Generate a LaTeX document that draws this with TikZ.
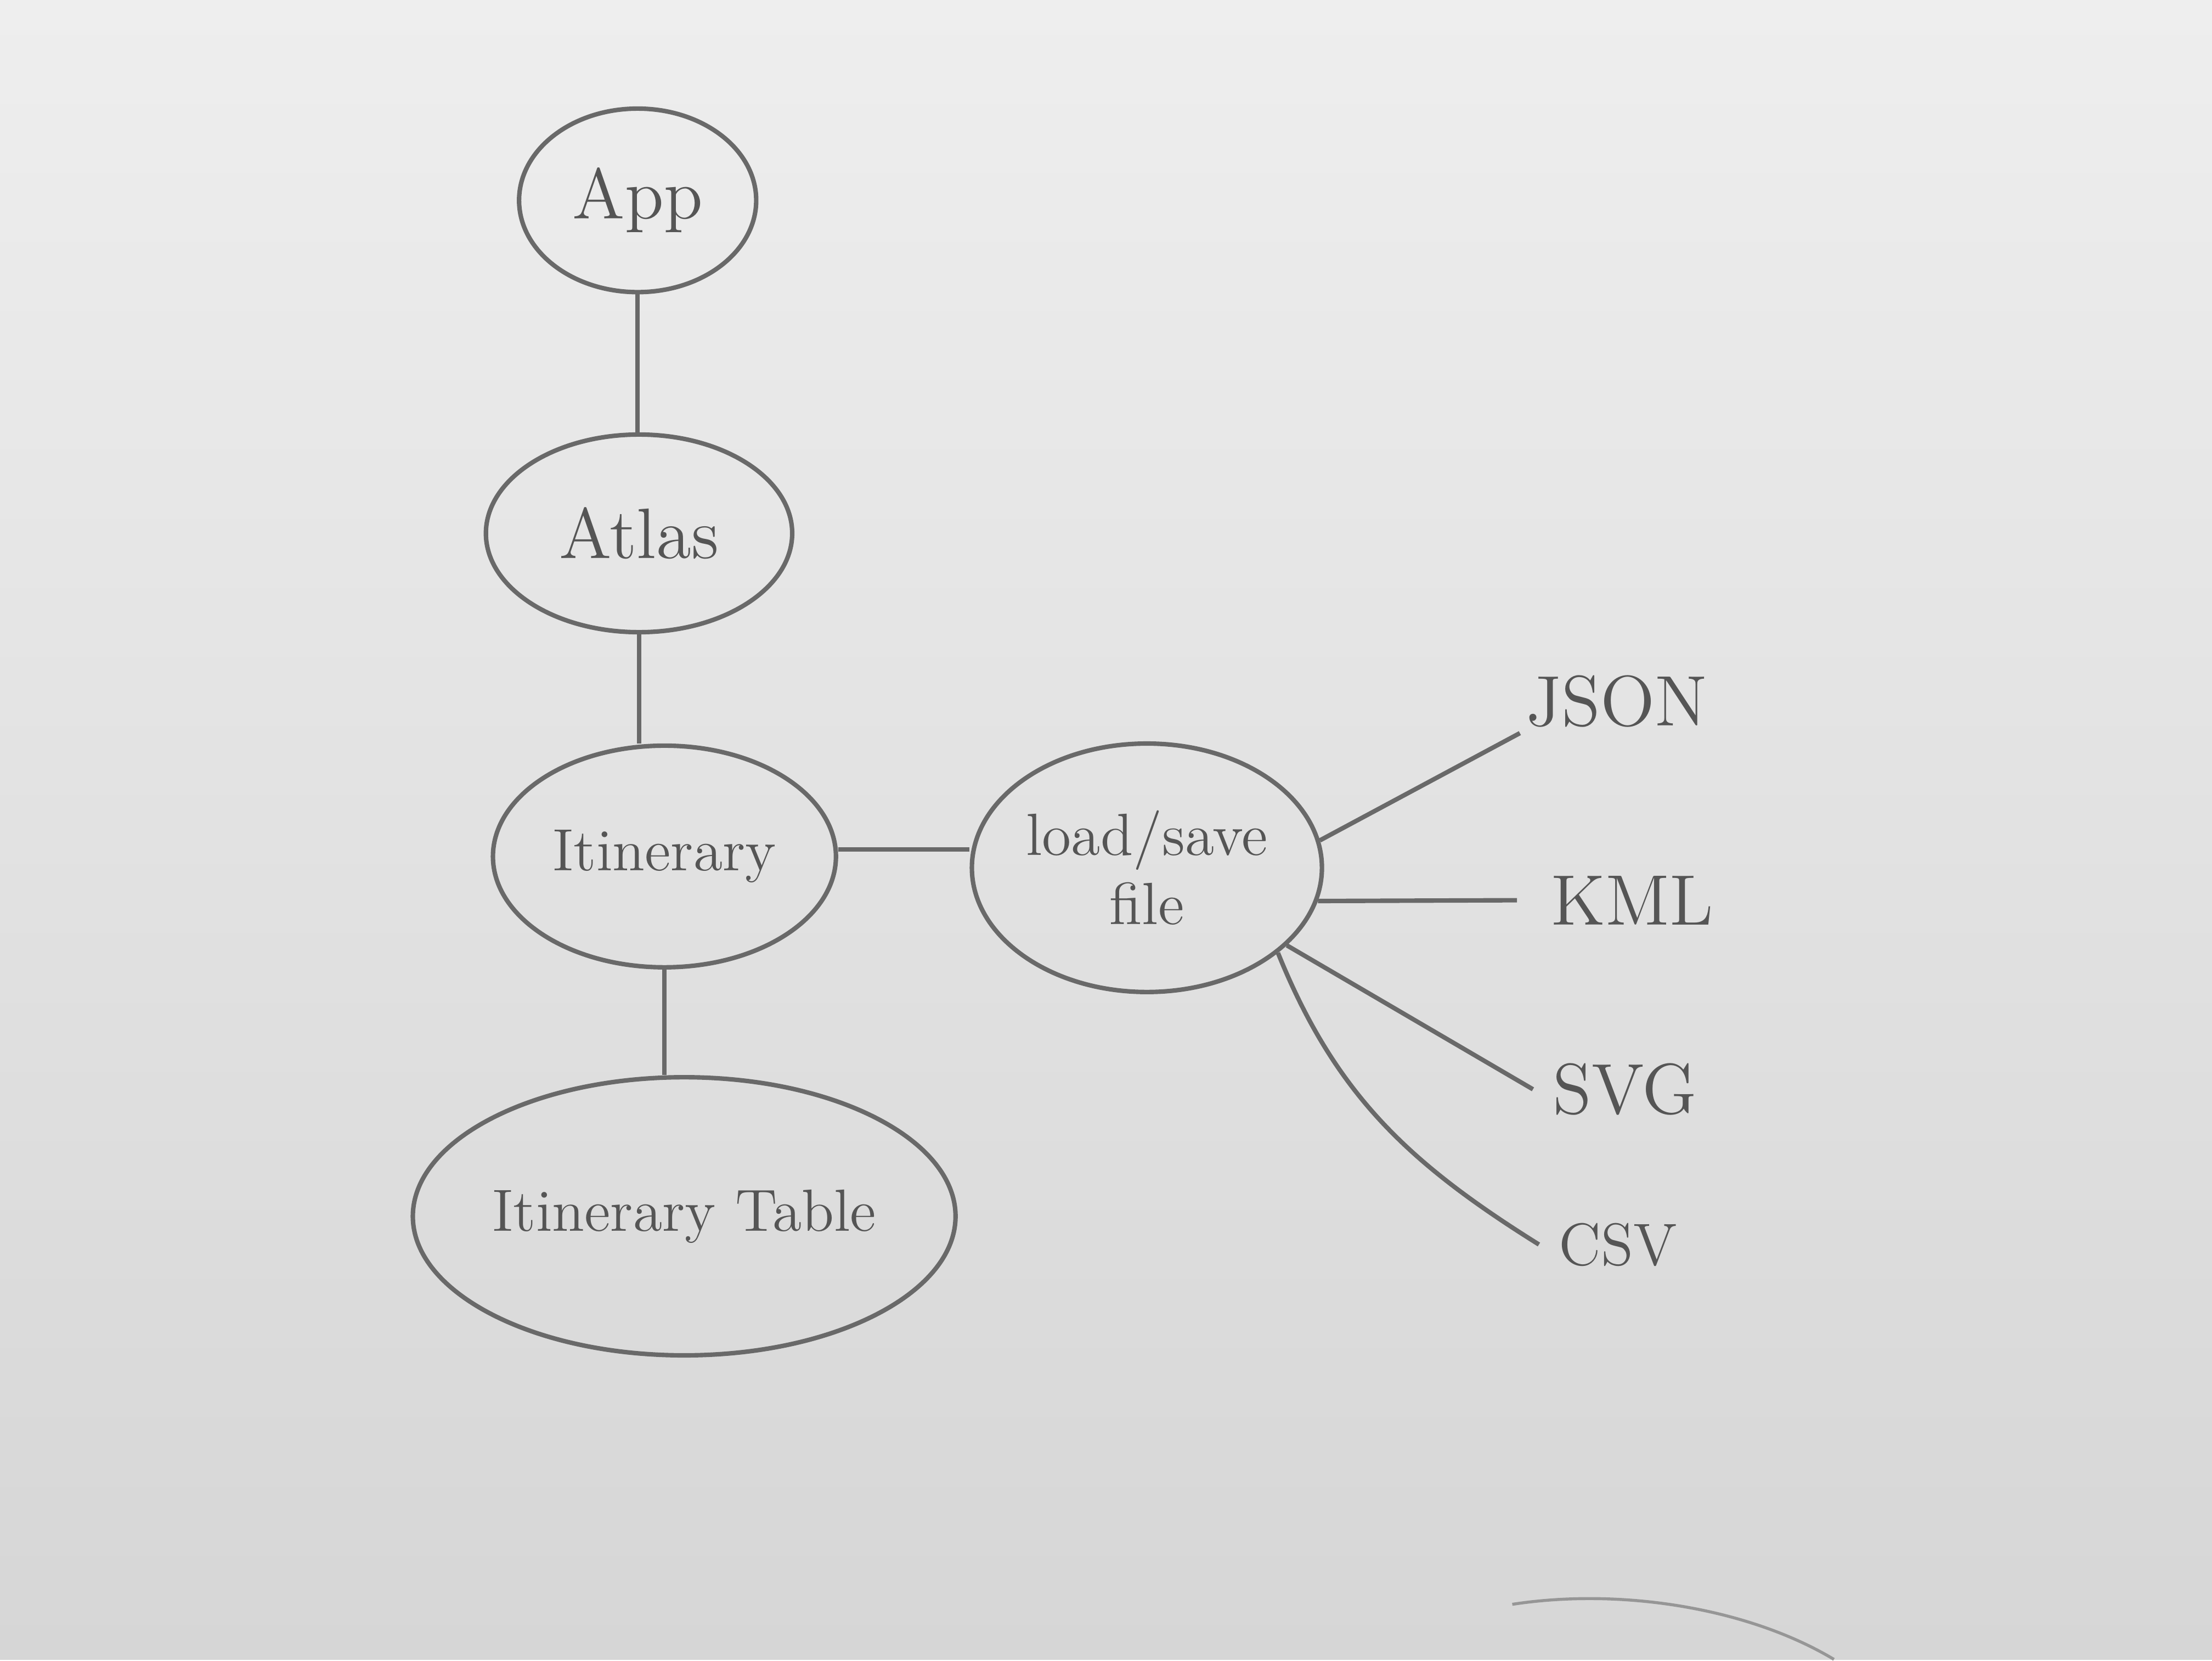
\documentclass[tikz,border=0pt]{standalone}
\usetikzlibrary{shapes.geometric}
\definecolor{pencil}{RGB}{105,105,105}
\definecolor{ink}{RGB}{85,85,85}
\definecolor{papertop}{RGB}{238,238,238}
\definecolor{paperbot}{RGB}{214,214,214}
\begin{document}
\begin{tikzpicture}[
  x=0.01cm, y=-0.01cm,
  bubble/.style={ellipse, draw=pencil, line width=0.9pt, inner sep=0pt, text=ink, font=\large},
  lbl/.style={text=ink, inner sep=1pt, font=\Large},
  link/.style={draw=pencil, line width=0.9pt}
]
\shade[top color=papertop, bottom color=paperbot] (0,0) rectangle (1568,1176);

\node[bubble, minimum width=1.68cm, minimum height=1.30cm, font=\Large] (app) at (452,142) {App};
\node[bubble, minimum width=2.17cm, minimum height=1.40cm, font=\Large] (atlas) at (453,378) {Atlas};
\node[bubble, minimum width=2.43cm, minimum height=1.57cm] (itin) at (471,607) {Itinerary};
\node[bubble, minimum width=3.07cm, minimum height=1.97cm] (table) at (485,862) {Itinerary Table};
\node[bubble, minimum width=2.48cm, minimum height=1.76cm, align=center] (load) at (813,615) {load/save\\file};

\node[lbl] (json) at (1146,497) {JSON};
\node[lbl] (kml) at (1157,638) {KML};
\node[lbl] (svg) at (1152,772) {SVG};
\node[lbl, font=\large] (csv) at (1147,882) {CSV};

\draw[link] (app.south) -- (app.south |- atlas.north);
\draw[link] (atlas.south) -- (atlas.south |- itin.north);
\draw[link] (itin.south) -- (itin.south |- table.north);
\draw[link] ([yshift=0.05cm]itin.east) -- ([yshift=0.05cm]itin.east -| load.west);
\draw[link] (load.9) -- (json.south west);
\draw[link] (load.-11) -- ([xshift=-0.2cm]kml.west);
\draw[link] (load.-29) -- ([xshift=-0.1cm]svg.west);
\draw[link] (load.-33) to[out=-68, in=148] ([xshift=-0.1cm]csv.west);

\draw[pencil!70, line width=0.6pt] (1072,1137) .. controls (1150,1125) and (1240,1140) .. (1300,1176);
\end{tikzpicture}
\end{document}
